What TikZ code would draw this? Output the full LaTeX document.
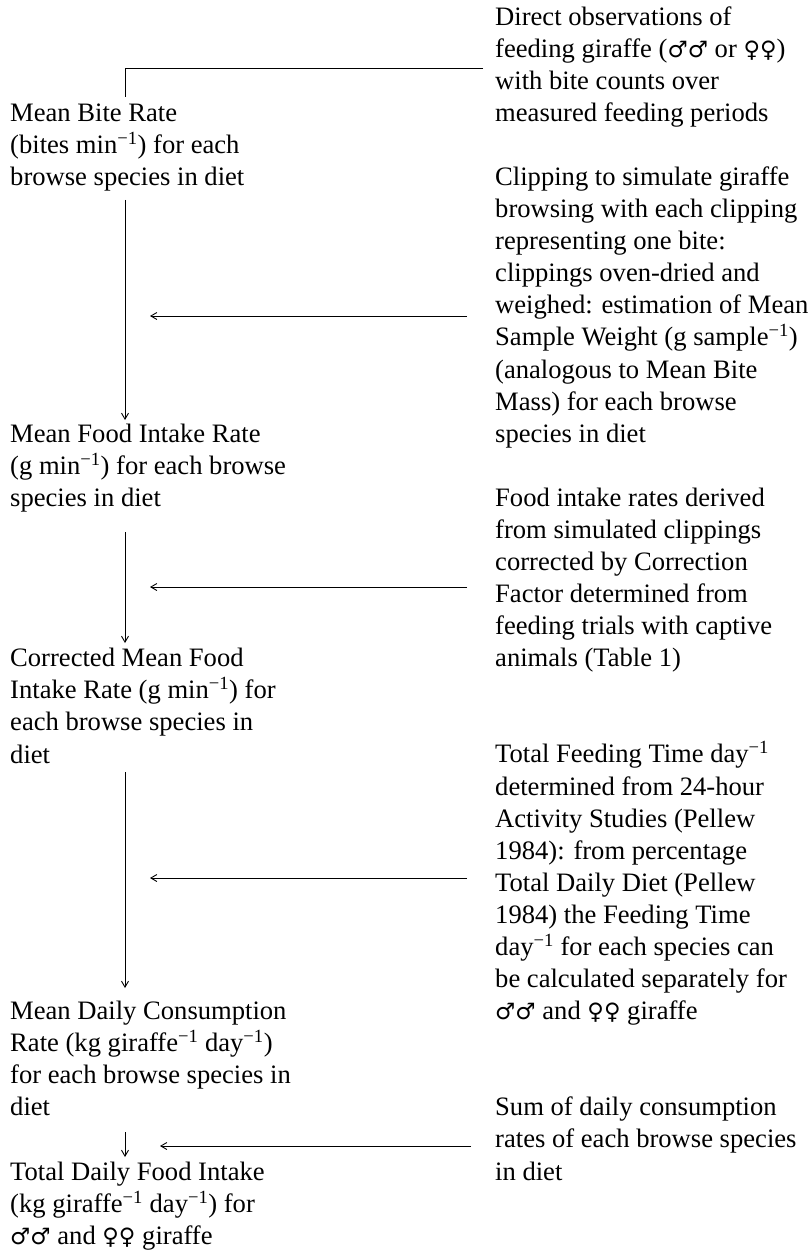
\documentclass[tikz,border=0pt]{standalone}
\usepackage{fontspec}
\setmainfont{Liberation Serif}
\newfontfamily\symf{DejaVu Sans}
\usetikzlibrary{arrows.meta}
\newcommand\inv{\textsuperscript{−1}}
\newcommand\males{{\symf\scalebox{0.85}{♂♂}}}
\newcommand\fems{{\symf\scalebox{0.85}{♀♀}}}
\begin{document}
\begin{tikzpicture}[x=1pt,y=-1pt,
  txt/.style={anchor=north west, inner sep=0pt, align=left,
    font=\fontsize{26.6}{32.08}\selectfont},
  conn/.style={line width=0.9pt},
  arr/.style={line width=0.9pt,-{Straight Barb[length=6pt,width=7pt]}}]
\useasboundingbox (0,0) rectangle (809,1257);
% right column
\node[txt] (r1) at (495,2.5) {\strut Direct observations of\\feeding giraffe (\males{} or \fems)\\with bite counts over\\measured feeding periods};
\node[txt] (r2) at (495,162.9) {\strut Clipping to simulate giraffe\\browsing with each clipping\\representing one bite:\\clippings oven-dried and\\weighed: estimation of Mean\\Sample Weight (g sample\inv)\\(analogous to Mean Bite\\Mass) for each browse\\species in diet};
\node[txt] (r3) at (495,483.7) {\strut Food intake rates derived\\from simulated clippings\\corrected by Correction\\Factor determined from\\feeding trials with captive\\animals (Table 1)};
\node[txt] (r4) at (495,740.3) {\strut Total Feeding Time day\inv\\determined from 24-hour\\Activity Studies (Pellew\\1984): from percentage\\Total Daily Diet (Pellew\\1984) the Feeding Time\\day\inv{} for each species can\\be calculated separately for\\\males{} and \fems{} giraffe};
\node[txt] (r5) at (495,1093.2) {\strut Sum of daily consumption\\rates of each browse species\\in diet};
% left column
\node[txt] (l1) at (10,98.7) {\strut Mean Bite Rate\\(bites min\inv) for each\\browse species in diet};
\node[txt] (l2) at (10,419.5) {\strut Mean Food Intake Rate\\(g min\inv) for each browse\\species in diet};
\node[txt] (l3) at (10,644.1) {\strut Corrected Mean Food\\Intake Rate (g min\inv) for\\each browse species in\\diet};
\node[txt] (l4) at (10,997.0) {\strut Mean Daily Consumption\\Rate (kg giraffe\inv{} day\inv)\\for each browse species in\\diet};
\node[txt] (l5) at (10,1157.4) {\strut Total Daily Food Intake\\(kg giraffe\inv{} day\inv) for\\\males{} and \fems{} giraffe};
% connector points
\coordinate (t0) at (483,68);
\coordinate (t1) at (125,68);
\coordinate (t2) at (125,97);
\coordinate (v1s) at (125,200); \coordinate (v1e) at (125,420);
\coordinate (v2s) at (125,532); \coordinate (v2e) at (125,643);
\coordinate (v3s) at (125,772); \coordinate (v3e) at (125,988);
\coordinate (v4s) at (125,1132); \coordinate (v4e) at (125,1157);
\coordinate (h1s) at (467,316); \coordinate (h1e) at (150,316);
\coordinate (h2s) at (467,587); \coordinate (h2e) at (150,587);
\coordinate (h3s) at (467,878); \coordinate (h3e) at (150,878);
\coordinate (h4s) at (471,1146); \coordinate (h4e) at (160,1146);
\draw[conn] (t0) -- (t1) -- (t2);
\draw[arr] (v1s) -- (v1e);
\draw[arr] (v2s) -- (v2e);
\draw[arr] (v3s) -- (v3e);
\draw[arr] (v4s) -- (v4e);
\draw[arr] (h1s) -- (h1e);
\draw[arr] (h2s) -- (h2e);
\draw[arr] (h3s) -- (h3e);
\draw[arr] (h4s) -- (h4e);
\end{tikzpicture}
\end{document}
